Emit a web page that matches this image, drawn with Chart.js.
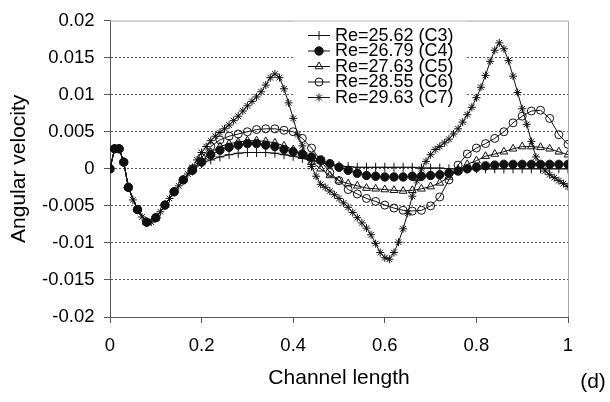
<!DOCTYPE html>
<html>
<head>
<meta charset="utf-8">
<script src="https://cdn.jsdelivr.net/npm/chart.js@4"></script>
<style>
  body { margin: 0; background: #fff; }
  canvas { display: block; }
</style>
</head>
<body>
<canvas id="chart" width="610" height="402"></canvas>
<script>
// channel length positions for C3..C6
const X = [0, 0.01, 0.02, 0.03, 0.04, 0.06, 0.08, 0.1, 0.12, 0.14, 0.16, 0.18,
    0.2, 0.22, 0.24, 0.26, 0.28, 0.3, 0.32, 0.34, 0.36, 0.38,
    0.4, 0.42, 0.44, 0.46, 0.48, 0.5, 0.52, 0.54, 0.56, 0.58,
    0.6, 0.62, 0.64, 0.66, 0.68, 0.7, 0.72, 0.74, 0.76, 0.78,
    0.8, 0.82, 0.84, 0.86, 0.88, 0.9, 0.92, 0.94, 0.96, 0.98, 1];

const C3 = [0, 0.0027, 0.0027, 0.0009, -0.0025, -0.0055, -0.0072, -0.0066, -0.0049, -0.0031, -0.0015, -0.0003,
    0.0007, 0.0012, 0.0016, 0.0019, 0.0021, 0.0022, 0.0022, 0.0022, 0.0021, 0.0019,
    0.0017, 0.0014, 0.0011, 0.0008, 0.0006, 0.0004, 0.0003, 0.0002, 0.0002, 0.0002,
    0.0002, 0.0002, 0.0002, 0.0002, 0.0001, 0.0001, 0.0001, 0, 0, 0,
    0, 0, 0, 0, 0, 0, 0, 0, 0, 0, 0];

const C4 = [0, 0.0027, 0.0027, 0.0009, -0.0025, -0.0055, -0.0072, -0.0066, -0.0049, -0.0031, -0.0015, -0.0002,
    0.0009, 0.0019, 0.0025, 0.0029, 0.0032, 0.0034, 0.0034, 0.0032, 0.003, 0.0026,
    0.0023, 0.002, 0.0016, 0.0012, 0.0007, 0.0002, -0.0002, -0.0006, -0.0009, -0.001,
    -0.0011, -0.0011, -0.0011, -0.001, -0.001, -0.0009, -0.0008, -0.0006, -0.0003, 0,
    0.0002, 0.0004, 0.0005, 0.0006, 0.0006, 0.0006, 0.0006, 0.0006, 0.0006, 0.0006, 0.0006];

const C5 = [0, 0.0027, 0.0027, 0.0009, -0.0025, -0.0055, -0.0072, -0.0066, -0.0049, -0.0031, -0.0015, -0.0001,
    0.0011, 0.0022, 0.003, 0.0034, 0.0036, 0.0038, 0.0038, 0.0037, 0.0035, 0.0031,
    0.0026, 0.0018, 0.0009, 0, -0.0009, -0.0016, -0.002, -0.0023, -0.0026, -0.0027,
    -0.0028, -0.0029, -0.003, -0.0029, -0.0027, -0.0024, -0.0019, -0.0011, -0.0002, 0.0006,
    0.0011, 0.0017, 0.002, 0.0023, 0.0027, 0.003, 0.003, 0.0029, 0.0027, 0.0023, 0.0019];

const C6 = [0, 0.0027, 0.0027, 0.0009, -0.0025, -0.0055, -0.0072, -0.0066, -0.0049, -0.0031, -0.0015, 0,
    0.0015, 0.003, 0.0039, 0.0044, 0.0047, 0.005, 0.0053, 0.0054, 0.0054, 0.0052,
    0.005, 0.0041, 0.0028, 0.0011, -0.0005, -0.0016, -0.0028, -0.0034, -0.004, -0.0044,
    -0.0049, -0.0053, -0.0056, -0.0057, -0.0056, -0.005, -0.0038, -0.0015, 0.0005, 0.002,
    0.0028, 0.0034, 0.0041, 0.005, 0.0062, 0.0071, 0.0078, 0.0079, 0.0068, 0.0046, 0.0033];

// C7 is sampled more densely
const X7 = [0, 0.01, 0.02, 0.03, 0.04, 0.05, 0.06, 0.07, 0.08, 0.09,
    0.1, 0.11, 0.12, 0.13, 0.14, 0.15, 0.16, 0.17, 0.18, 0.19,
    0.2, 0.21, 0.22, 0.23, 0.24, 0.25, 0.26, 0.27, 0.28, 0.29,
    0.3, 0.31, 0.32, 0.33, 0.34, 0.35, 0.36, 0.37, 0.38, 0.39,
    0.4, 0.41, 0.42, 0.43, 0.44, 0.45, 0.46, 0.47, 0.48, 0.49,
    0.5, 0.51, 0.52, 0.53, 0.54, 0.55, 0.56, 0.57, 0.58, 0.59,
    0.6, 0.61, 0.62, 0.63, 0.64, 0.65, 0.66, 0.67, 0.68, 0.69,
    0.7, 0.71, 0.72, 0.73, 0.74, 0.75, 0.76, 0.77, 0.78, 0.79,
    0.8, 0.81, 0.82, 0.83, 0.84, 0.85, 0.86, 0.87, 0.88, 0.89,
    0.9, 0.91, 0.92, 0.93, 0.94, 0.95, 0.96, 0.97, 0.98, 0.99,
    1];

const C7 = [0, 0.0027, 0.0027, 0.0009, -0.0025, -0.0042, -0.0055, -0.0065, -0.0072, -0.0072,
    -0.0066, -0.0058, -0.0049, -0.004, -0.0031, -0.0023, -0.0015, -0.0007, 0.0002, 0.0012,
    0.0022, 0.003, 0.0038, 0.0044, 0.0049, 0.0054, 0.0059, 0.0065, 0.0071, 0.0078,
    0.0085, 0.0091, 0.0097, 0.0104, 0.0113, 0.0123, 0.0128, 0.0123, 0.0108, 0.0089,
    0.0068, 0.0046, 0.0031, 0.0017, 0.0003, -0.001, -0.0021, -0.0025, -0.003, -0.0035,
    -0.004, -0.0046, -0.0052, -0.0059, -0.0066, -0.0073, -0.008, -0.0089, -0.0101, -0.0113,
    -0.012, -0.0122, -0.0113, -0.0099, -0.0081, -0.006, -0.0037, -0.0016, 0, 0.001,
    0.0019, 0.0026, 0.003, 0.0035, 0.004, 0.0047, 0.0054, 0.0063, 0.0073, 0.0083,
    0.0096, 0.011, 0.0126, 0.0145, 0.016, 0.017, 0.0162, 0.0146, 0.0125, 0.0103,
    0.0081, 0.006, 0.0037, 0.0016, 0.0005, -0.0003, -0.0008, -0.0012, -0.0016, -0.002,
    -0.0024];

const LABELS = ['Re=25.62 (C3)', 'Re=26.79 (C4)', 'Re=27.63 (C5)', 'Re=28.55 (C6)', 'Re=29.63 (C7)'];

const FONT = "'Liberation Sans', Arial, sans-serif";
const INK = '#111';

function pts(xs, ys) {
    return xs.map((x, i) => ({ x: x, y: ys[i] }));
}

function series(label, xs, ys, style, radius, fill) {
    return {
        label: label,
        data: pts(xs, ys),
        showLine: true,
        borderColor: INK,
        borderWidth: 1,
        pointStyle: style,
        pointRadius: radius,
        pointBorderWidth: 1,
        pointBorderColor: INK,
        pointBackgroundColor: fill,
        tension: 0,
    };
}

const datasets = [
    series(LABELS[0], X, C3, 'cross', 4.5, INK),
    series(LABELS[1], X, C4, 'circle', 4.2, INK),
    series(LABELS[2], X, C5, 'triangle', 4.5, 'rgba(255,255,255,0)'),
    series(LABELS[3], X, C6, 'circle', 4, 'rgba(255,255,255,0)'),
    series(LABELS[4], X7, C7, 'star', 4, INK),
];

// frame, legend box, panel letter
const extras = {
    id: 'extras',
    beforeDatasetsDraw(chart) {
        const { ctx, chartArea: a } = chart;
        ctx.save();
        ctx.strokeStyle = '#a8a8a8';
        ctx.lineWidth = 1;
        ctx.beginPath();
        ctx.moveTo(a.left, a.top + 0.5);
        ctx.lineTo(a.right + 0.5, a.top + 0.5);
        ctx.lineTo(a.right + 0.5, a.bottom);
        ctx.stroke();
        // legend background hides grid lines
        ctx.fillStyle = '#fff';
        ctx.fillRect(293, a.top + 1, 174, 90);
        ctx.restore();
    },
    afterDatasetsDraw(chart) {
        const { ctx } = chart;
        ctx.save();
        const ds = chart.data.datasets;
        ctx.font = '18px ' + FONT;
        ctx.textBaseline = 'middle';
        ctx.textAlign = 'left';
        for (let i = 0; i < ds.length; i++) {
            const y = 35 + i * 15.5;
            ctx.strokeStyle = INK;
            ctx.lineWidth = 1;
            ctx.beginPath();
            ctx.moveTo(308, y + 0.5);
            ctx.lineTo(330, y + 0.5);
            ctx.stroke();
            ctx.fillStyle = ds[i].pointBackgroundColor;
            ctx.strokeStyle = INK;
            Chart.helpers.drawPoint(ctx, {
                pointStyle: ds[i].pointStyle,
                radius: ds[i].pointRadius,
                rotation: 0,
                borderWidth: 1,
            }, 319, y + 0.5);
            ctx.fillStyle = '#000';
            ctx.fillText(ds[i].label, 335, y + 1);
        }
        ctx.font = '21px ' + FONT;
        ctx.textAlign = 'center';
        ctx.fillText('(d)', 593, 382);
        ctx.restore();
    },
};

new Chart(document.getElementById('chart'), {
    type: 'scatter',
    data: { datasets },
    options: {
        responsive: false,
        animation: false,
        layout: { padding: { left: 0, top: 15, right: 42, bottom: 0 } },
        plugins: {
            legend: { display: false },
            tooltip: { enabled: false },
        },
        scales: {
            x: {
                type: 'linear',
                min: 0,
                max: 1,
                afterFit: (s) => { s.height = 85; },
                ticks: {
                    stepSize: 0.2,
                    padding: 12,
                    color: '#000',
                    font: { family: FONT, size: 18.5 },
                    callback: (v) => String(Number(v.toFixed(1))),
                },
                grid: {
                    drawOnChartArea: false,
                    tickLength: 6,
                    tickColor: '#555',
                },
                border: { color: '#555', width: 1 },
                title: {
                    display: true,
                    text: 'Channel length',
                    color: '#000',
                    font: { family: FONT, size: 21 },
                    padding: { bottom: 11 },
                },
            },
            y: {
                min: -0.02,
                max: 0.02,
                afterFit: (s) => { s.width = 110; },
                ticks: {
                    stepSize: 0.005,
                    padding: 9.5,
                    color: '#000',
                    font: { family: FONT, size: 18.5 },
                    callback: (v) => String(Number(v.toFixed(3))),
                },
                grid: {
                    color: (c) => (Math.abs(c.tick && c.tick.value) > 0.0199 ? 'rgba(0,0,0,0)' : '#555'),
                    tickColor: '#555',
                    tickLength: 6,
                },
                border: { color: '#555', width: 1, dash: [2, 2] },
                title: {
                    display: true,
                    text: 'Angular velocity',
                    color: '#000',
                    font: { family: FONT, size: 21 },
                    padding: { top: 7 },
                },
            },
        },
    },
    plugins: [extras],
});
</script>
</body>
</html>
